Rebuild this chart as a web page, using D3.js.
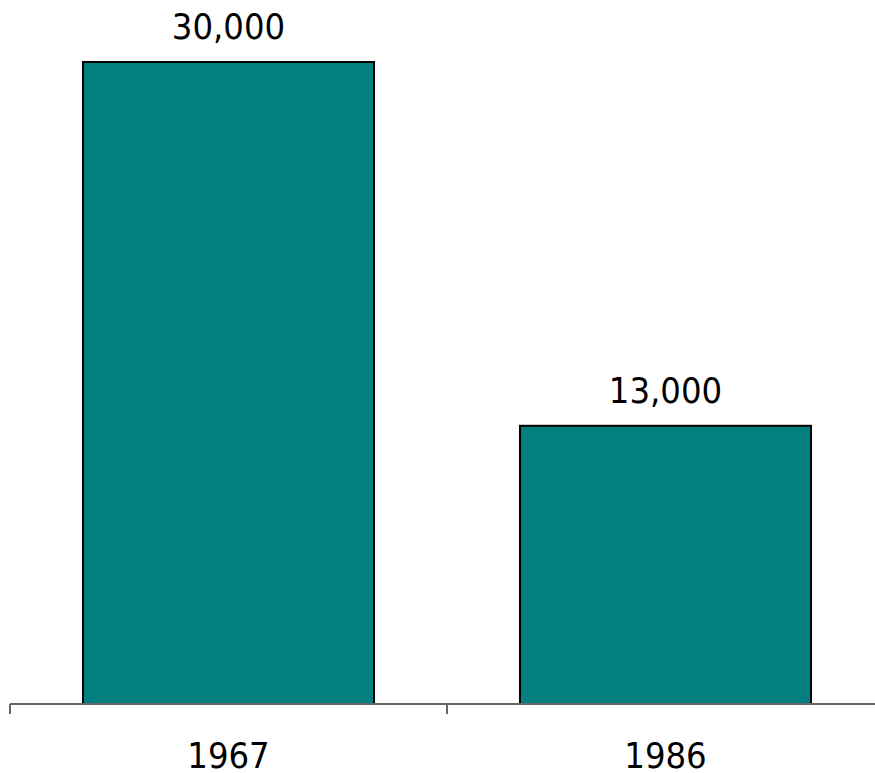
<!DOCTYPE html>
<html lang="en">
<head>
  <meta charset="UTF-8">
  <title>1967 vs 1986</title>
  <script src="https://d3js.org/d3.v7.min.js"></script>
  <style type="text/css">
    body { margin: 0; background: #fff; }
    .bar { fill: #008080; stroke: #000; stroke-width: 2; }
    .label { font-family: "DejaVu Sans Condensed", "Liberation Sans", sans-serif; font-size: 36px; fill: #000; }
    .axis-line { stroke: #666; stroke-width: 2; }
  </style>
</head>
<body>
<script>
  // data
  var years = ["1967", "1986"];
  var values = [30000, 13000];

  var width = 875, height = 773;
  var baseY = 704;

  var svg = d3.select("body").append("svg")
    .attr("width", width)
    .attr("height", height);

  // band scale: boundaries at 10, 447, 884
  var xScale = d3.scaleBand()
    .domain(years)
    .range([10, 884])
    .paddingInner(0.334)
    .paddingOuter(0.167);

  var yScale = d3.scaleLinear()
    .domain([0, 30000])
    .range([baseY, 62]);

  svg.selectAll(".bar")
    .data(values)
    .enter().append("rect")
    .attr("class", "bar")
    .attr("x", function(d, i) { return xScale(years[i]); })
    .attr("y", function(d) { return yScale(d); })
    .attr("width", xScale.bandwidth())
    .attr("height", function(d) { return baseY - yScale(d); });

  // axis line and ticks at category boundaries
  svg.append("line")
    .attr("class", "axis-line")
    .attr("x1", 10).attr("x2", 884)
    .attr("y1", baseY).attr("y2", baseY);

  var step = xScale.step();
  var bounds = d3.range(years.length + 1).map(function(i) { return 10 + i * (874 / years.length); });
  svg.selectAll(".tick")
    .data(bounds)
    .enter().append("line")
    .attr("class", "axis-line")
    .attr("x1", function(d) { return d; })
    .attr("x2", function(d) { return d; })
    .attr("y1", baseY)
    .attr("y2", baseY + 10);

  // value labels
  svg.selectAll(".val")
    .data(values)
    .enter().append("text")
    .attr("class", "label")
    .attr("text-anchor", "middle")
    .attr("x", function(d, i) { return xScale(years[i]) + xScale.bandwidth() / 2; })
    .attr("y", function(d) { return yScale(d) - 23; })
    .text(function(d) { return d3.format(",")(d); });

  // category labels
  svg.selectAll(".cat")
    .data(years)
    .enter().append("text")
    .attr("class", "label")
    .attr("text-anchor", "middle")
    .attr("x", function(d) { return xScale(d) + xScale.bandwidth() / 2; })
    .attr("y", 768)
    .text(function(d) { return d; });
</script>
</body>
</html>
